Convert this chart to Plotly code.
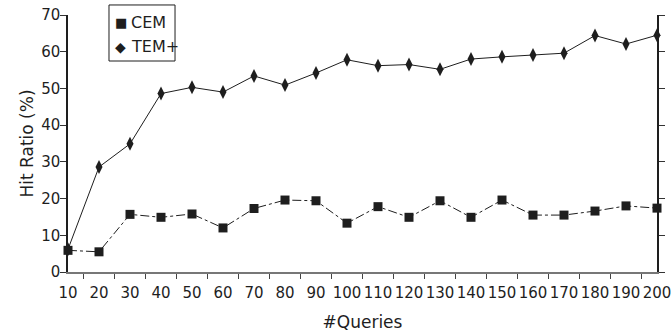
import plotly.graph_objects as go

queries = [10, 20, 30, 40, 50, 60, 70, 80, 90, 100, 110, 120, 130, 140, 150, 160, 170, 180, 190, 200]
cem = [5.9, 5.5, 15.7, 14.9, 15.8, 12.0, 17.3, 19.6, 19.4, 13.3, 17.8, 14.9, 19.4, 14.9, 19.6, 15.5, 15.5, 16.6, 18.0, 17.4]
tem_plus = [6.2, 28.6, 34.9, 48.6, 50.3, 49.0, 53.4, 50.9, 54.2, 57.8, 56.2, 56.5, 55.2, 58.0, 58.6, 59.1, 59.6, 64.4, 62.1, 64.5]
series_names = ["CEM", "TEM+"]
legend_symbols = ["■", "◆"]

INK = "#1e1e1e"
FONT = "DejaVu Sans, sans-serif"

fig = go.Figure()
fig.add_trace(go.Scatter(x=queries, y=tem_plus, mode="lines+markers", name="TEM+", showlegend=False,
                         cliponaxis=False,
                         line=dict(color=INK, width=1),
                         marker=dict(symbol="diamond-tall", size=10, color=INK)))
fig.add_trace(go.Scatter(x=queries, y=cem, mode="lines+markers", name="CEM", showlegend=False,
                         cliponaxis=False,
                         line=dict(color=INK, width=1, dash="dashdot"),
                         marker=dict(symbol="square", size=9, color=INK)))

# manual legend box
fig.add_shape(type="rect", xref="paper", yref="paper", x0=0.0696, x1=0.1817, y0=0.821, y1=1.039,
              line=dict(color=INK, width=1), fillcolor="white", layer="above")
legend_y = [0.969, 0.877]
legend_sym_size = [13, 14]
for sym, ssz, name, ly in zip(legend_symbols, legend_sym_size, series_names, legend_y):
    fig.add_annotation(xref="paper", yref="paper", x=0.076, y=ly, xanchor="left", yanchor="middle",
                       text=sym, showarrow=False, font=dict(size=ssz, color=INK, family=FONT))
    fig.add_annotation(xref="paper", yref="paper", x=0.104, y=ly, xanchor="left", yanchor="middle",
                       text=name, showarrow=False, font=dict(size=16, color=INK, family=FONT))

fig.update_layout(
    width=672, height=334,
    margin=dict(l=68, r=15, t=15, b=62),
    plot_bgcolor="white", paper_bgcolor="white",
    font=dict(family=FONT, size=15, color=INK),
    showlegend=False,
    xaxis=dict(range=[10, 200], tick0=10, dtick=10, ticks="", showgrid=False, zeroline=False,
               showline=True, linecolor="#777", linewidth=2, automargin=False,
               tickfont=dict(size=15), ticklabelstandoff=6, tickangle=0,
               minor=dict(tick0=15, dtick=10, ticks="outside", ticklen=5, tickcolor="#444", showgrid=False),
               title=dict(text="#Queries", font=dict(size=17), standoff=15)),
    yaxis=dict(range=[0, 70], dtick=10, ticks="outside", ticklen=6, tickcolor="#333",
               showgrid=False, zeroline=False, showline=True, linecolor=INK, linewidth=1.5,
               mirror="ticks", tickfont=dict(size=15), ticklabelstandoff=-3, automargin=False,
               title=dict(text="Hit Ratio (%)", font=dict(size=17), standoff=3)),
)

fig.write_html("out.html", config={"displayModeBar": False},
               post_script="document.body.style.margin='0';")
